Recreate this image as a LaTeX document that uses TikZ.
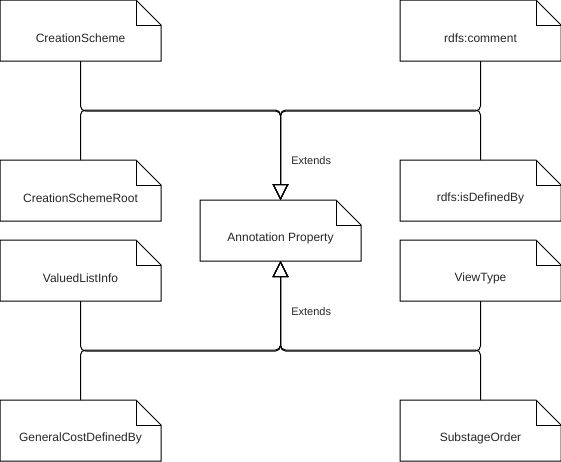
\documentclass[tikz,border=0pt]{standalone}
\usepackage{fontspec}
\setmainfont{Liberation Sans}
\usetikzlibrary{arrows.meta}
\begin{document}
\begin{tikzpicture}[x=1pt,y=-1pt,line width=1pt,
    note/.style={minimum width=160pt,minimum height=60pt,inner sep=0pt},
    notetext/.style={font=\fontsize{12}{14}\selectfont,text=black!85,yshift=-8pt},
    extends/.style={rounded corners=5pt,-{Triangle[open,length=16pt,width=16pt]}},
    extlabel/.style={font=\fontsize{11}{13}\selectfont,text=black!85,anchor=west,xshift=7pt}]
    \useasboundingbox (0,0) rectangle (561,461);
    \node[note,label={[notetext]center:CreationScheme}] (cs) at (80.5,30.5) {};
    \node[note,label={[notetext]center:CreationSchemeRoot}] (csr) at (80.5,190.5) {};
    \node[note,label={[notetext]center:ValuedListInfo}] (vli) at (80.5,270.5) {};
    \node[note,label={[notetext]center:GeneralCostDefinedBy}] (gcd) at (80.5,430.5) {};
    \node[note,label={[notetext]center:rdfs:comment}] (rc) at (480.5,30.5) {};
    \node[note,label={[notetext]center:rdfs:isDefinedBy}] (rid) at (480.5,190.5) {};
    \node[note,label={[notetext]center:ViewType}] (vt) at (480.5,270.5) {};
    \node[note,label={[notetext]center:SubstageOrder}] (so) at (480.5,430.5) {};
    \node[note,label={[notetext]center:Annotation Property}] (ap) at (280.5,230.5) {};
    \foreach \n in {cs,csr,vli,gcd,rc,rid,vt,so,ap} {
        \draw (\n.south west) -- (\n.north west) -- ([xshift=-25pt]\n.north east)
            -- ([yshift=-25pt]\n.north east) -- (\n.south east) -- cycle;
        \draw ([xshift=-25pt]\n.north east) |- ([yshift=-25pt]\n.north east);
    }
    \draw[extends] (cs.south) -- ++(0,50) -| node[pos=0.78,extlabel] {Extends} (ap.north);
    \draw[extends] (csr.north) -- ++(0,-50) -| (ap.north);
    \draw[extends] (rc.south) -- ++(0,50) -| (ap.north);
    \draw[extends] (rid.north) -- ++(0,-50) -| (ap.north);
    \draw[extends] (vli.south) -- ++(0,50) -| node[pos=0.72,extlabel] {Extends} (ap.south);
    \draw[extends] (gcd.north) -- ++(0,-50) -| (ap.south);
    \draw[extends] (vt.south) -- ++(0,50) -| (ap.south);
    \draw[extends] (so.north) -- ++(0,-50) -| (ap.south);
\end{tikzpicture}
\end{document}
